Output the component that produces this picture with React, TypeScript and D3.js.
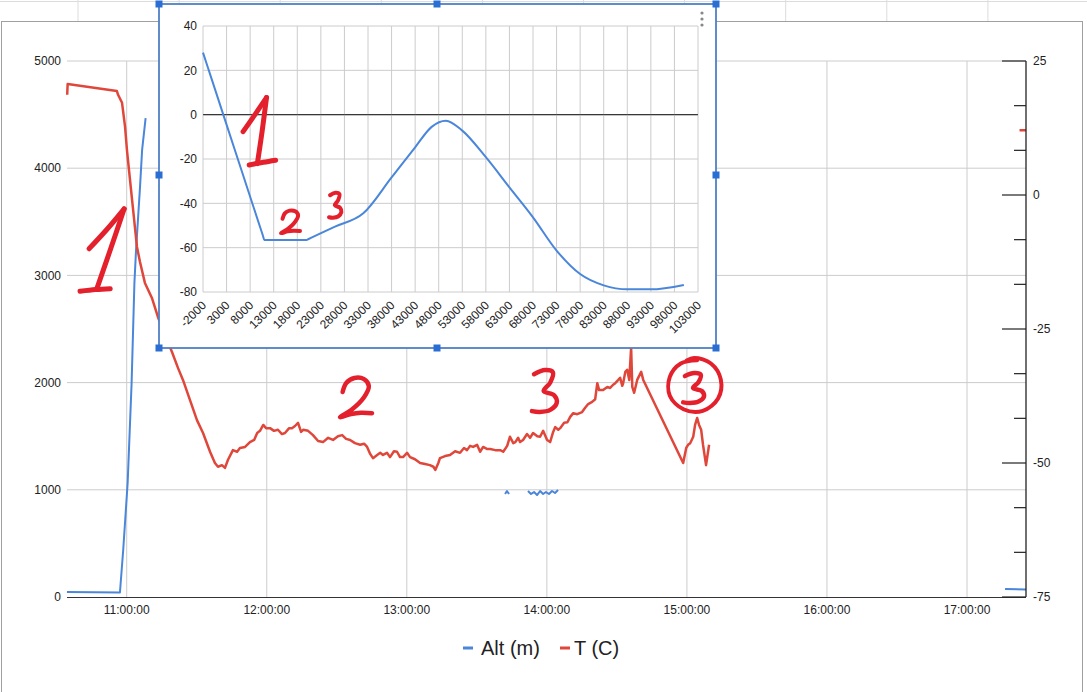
import React from "react";
import * as d3 from "d3";

const W = 1087;
const H = 692;
const FONT = "'Liberation Sans', Arial, Helvetica, sans-serif";

// ---------- main chart data (minutes after 11:00:00) ----------
const altMinutes = [
  -25.6, -2.9, -1.5, 0.4, 2.1, 3.3, 4.0, 5.7, 6.6, 8.1, 80,
  162.1, 162.9, 163.8, 168,
  171.9, 173.2, 174.5, 175.8, 177.1, 178.4, 179.6, 180.9, 182.2, 183.5, 184.8, 280,
  376.3, 385.3,
];
const altMeters: (number | null)[] = [
  47, 42, 438, 1063, 1996, 2929, 3237, 3824, 4170, 4468, null,
  961, 989, 961, null,
  989, 961, 979, 951, 989, 961, 979, 961, 989, 970, 998, null,
  75, 70,
];

const tempMinutes = [
  -25.5, -25.3, -4.2, -3.7, -2.0, -0.7, 0.1, 2.3, 4.4, 5.7, 7.8, 10.8, 13.4, 16.4, 19.4, 22.0, 24.1,
  30.1, 32.7, 35.7, 37.8, 39.1, 40.8, 42.1, 43.4, 45.5, 47.3, 48.5, 50.7, 52.8, 54.6, 55.9, 57.1,
  58.5, 59.7, 61.4, 63.1, 64.8, 66.5, 67.8, 69.6, 70.8, 72.1, 73.4, 74.7, 75.6, 77.7, 79.8, 82.0,
  84.1, 86.3, 88.4, 90.5, 92.3, 94.0, 95.7, 97.8, 100.0, 101.7, 103.0, 104.3, 105.5, 107.3, 108.6,
  109.8, 111.5, 112.8, 114.5, 115.8, 117.1, 118.4, 120.1, 121.4, 123.5, 125.7, 127.8, 129.9, 131.4,
  132.2, 133.5, 134.2, 136.4, 138.5, 140.7, 142.8, 144.5, 145.8, 147.1, 148.4, 150.1, 151.4, 152.7,
  154.5, 155.7, 157.9, 160.0, 161.3, 163.0, 164.2, 165.6, 166.5, 167.7, 168.5, 169.8, 171.5, 172.8,
  174.1, 175.9, 177.1, 178.4, 180.1, 181.4, 182.7, 183.6, 184.9, 185.7, 187.4, 188.8, 190.0, 191.3,
  193.0, 195.1, 196.4, 197.7, 199.4, 200.7, 201.6, 202.4, 204.1, 205.9, 207.1, 208.4, 209.3, 210.6,
  211.4, 212.3, 212.7, 213.6, 214.4, 215.3, 216.1, 216.6, 217.4, 218.7, 220.4, 221.3,
  238.4, 239.7, 240.5, 241.4, 242.7, 243.5, 244.4, 245.2, 246.1, 246.9, 248.2, 249.5,
  300, 382.5, 385.3,
];
const tempC: (number | null)[] = [
  18.7, 20.7, 19.4, 18.7, 17.2, 12.7, 8.4, -0.9, -9.7, -12.5, -16.4, -19.2, -22.8, -26.1, -29.3, -32.3, -34.5,
  -42.0, -44.4, -47.9, -50.0, -50.7, -50.4, -50.9, -49.4, -47.6, -47.9, -47.2, -47.0, -46.1, -45.7, -44.4, -44.0,
  -42.9, -43.5, -43.5, -44.0, -43.8, -44.6, -44.4, -43.5, -43.5, -43.1, -42.5, -44.2, -43.8, -44.0, -44.8, -45.9,
  -46.1, -45.3, -45.7, -45.0, -44.8, -45.5, -45.7, -46.3, -46.6, -46.4, -47.0, -48.3, -49.1, -48.5, -48.1,
  -48.5, -48.1, -48.9, -47.8, -47.9, -48.9, -48.9, -48.1, -48.9, -49.3, -50.0, -50.2, -50.4, -50.7,
  -51.3, -50.0, -49.1, -48.7, -48.5, -47.8, -48.1, -47.2, -47.6, -46.8, -47.0, -46.6, -47.9, -47.0,
  -47.4, -47.4, -47.6, -47.6, -47.9, -46.8, -45.1, -46.3, -46.1, -45.3, -46.1, -45.7, -44.6, -45.3,
  -44.4, -45.0, -45.1, -44.0, -45.7, -46.1, -44.2, -43.3, -43.8, -43.5, -42.5, -42.4, -41.4, -40.7,
  -40.9, -40.5, -39.7, -39.0, -38.6, -38.1, -35.1, -36.4, -36.4, -35.8, -36.0, -35.4, -35.1, -34.5,
  -34.1, -35.6, -35.1, -33.0, -32.6, -34.5, -28.5, -35.8, -36.9, -34.5, -33.0, -34.5,
  -50.0, -47.2, -46.6, -46.3, -45.1, -42.9, -41.6, -42.9, -43.8, -46.6, -50.4, -46.6,
  null, 12.1, 12.1,
];

const leftTicks = [0, 1000, 2000, 3000, 4000, 5000];
const rightMajorTicks = [25, 0, -25, -50, -75];
const legendItems = ["Alt (m)", "T (C)"];
const seriesColors = ["#4a86d9", "#e0473b"];

// ---------- inset chart data ----------
const insetAltitude = [-2000, 0, 5000, 10000, 10700, 11000, 20000, 20300, 21000, 26000, 32000, 38000, 43000, 46500, 49500, 53000, 58000, 63000, 68000, 73000, 78000, 83000, 88000, 93000, 100000];
const insetTemp = [28, 15, -17.5, -50, -54.5, -56.5, -56.5, -56.2, -55.5, -50.5, -44.5, -28.3, -14.7, -5.5, -2.7, -7.2, -19.2, -32.8, -46.3, -61.3, -71.9, -77, -78.8, -78.8, -76.8];
const insetYTicks = [40, 20, 0, -20, -40, -60, -80];

// ---------- hand-drawn annotations (glyph shapes in a unit box) ----------
type Pt = [number, number];
const GLYPHS: Record<string, Pt[][]> = {
  oneSlant: [
    [[0.2, 0.48], [0.6, 0.25], [0.98, 0.01]],
    [[0.98, 0.01], [0.68, 0.48], [0.38, 0.94]],
    [[0, 0.98], [0.35, 0.96], [0.67, 0.95]],
  ],
  oneUp: [
    [[0, 0.5], [0.35, 0.25], [0.69, 0]],
    [[0.69, 0], [0.56, 0.5], [0.42, 0.97]],
    [[0.18, 0.99], [0.6, 0.95], [0.96, 0.92]],
  ],
  two: [[[0.08, 0.35], [0.2, 0.12], [0.45, 0], [0.75, 0.03], [0.9, 0.2], [0.75, 0.48], [0.35, 0.8], [0, 0.98], [0.35, 0.9], [0.65, 0.87], [1, 0.88]]],
  three: [[[0.08, 0.1], [0.5, 0], [0.8, 0.05], [0.7, 0.3], [0.45, 0.5], [0.85, 0.6], [0.95, 0.78], [0.7, 0.95], [0.3, 1], [0, 0.98]]],
  ring: [[[0.55, 0.04], [0.25, 0.1], [0.05, 0.35], [0.05, 0.7], [0.3, 0.95], [0.65, 0.98], [0.93, 0.75], [0.98, 0.4], [0.8, 0.1], [0.5, 0], [0.35, 0.05]]],
};
// main chart notes: minutes range, altitude range (left axis)
const mainNotes = [
  { glyph: "oneSlant", t0: -20.0, t1: -0.7, v0: 3629, v1: 2836, w: 5 },
  { glyph: "two", t0: 91.4, t1: 105.1, v0: 2043, v1: 1670, w: 4.5 },
  { glyph: "three", t0: 173.6, t1: 184.8, v0: 2117, v1: 1726, w: 4.5 },
  { glyph: "ring", t0: 231.5, t1: 255.0, v0: 2229, v1: 1726, w: 4 },
  { glyph: "three", t0: 238.4, t1: 247.8, v0: 2089, v1: 1810, w: 4.5 },
];
// inset notes: altitude range, temperature range
const insetNotes = [
  { glyph: "oneUp", t0: 6500, t1: 13700, v0: 7.7, v1: -23.0, w: 5 },
  { glyph: "two", t0: 14545, t1: 18576, v0: -43.3, v1: -53.7, w: 4 },
  { glyph: "three", t0: 24727, t1: 27485, v0: -35.2, v1: -46.5, w: 4 },
];
const NOTE_RED = "#e3202c";

const BASE = new Date(2000, 0, 1, 11, 0, 0).getTime();
const toDate = (m: number) => new Date(BASE + m * 60000);

export default function App() {
  // main scales
  const x = d3.scaleTime().domain([toDate(-25.58), toDate(385.27)]).range([67, 1026]);
  const yL = d3.scaleLinear().domain([0, 5000]).range([597, 61]);
  const yR = d3.scaleLinear().domain([-75, 25]).range([597, 61]);
  const hours = d3.timeHour.range(toDate(-25), toDate(385));
  const fmt = d3.timeFormat("%H:%M:%S");
  const minorR = d3.range(25, -75.01, -25 / 3).filter((v) => Math.abs(v % 25) > 0.5 && Math.abs(v % 25) < 24.5);

  const altLine = d3
    .line<number>()
    .defined((i) => altMeters[i] != null)
    .x((i) => x(toDate(altMinutes[i])))
    .y((i) => yL(altMeters[i] as number));
  const tempLine = d3
    .line<number>()
    .defined((i) => tempC[i] != null)
    .x((i) => x(toDate(tempMinutes[i])))
    .y((i) => yR(tempC[i] as number));

  // inset scales
  const xi = d3.scaleLinear().domain([-2000, 103000]).range([203, 698]);
  const yi = d3.scaleLinear().domain([-80, 40]).range([292, 26]);
  const xiTicks = d3.range(-2000, 103001, 5000);
  const insetLine = d3
    .line<number>()
    .curve(d3.curveMonotoneX)
    .x((i) => xi(insetAltitude[i]))
    .y((i) => yi(insetTemp[i]));

  const glyphLine = d3.line<Pt>().curve(d3.curveCatmullRom.alpha(0.5));
  const notePaths = (
    notes: typeof mainNotes,
    sx: (v: number) => number,
    sy: (v: number) => number
  ) =>
    notes.flatMap((n, k) =>
      GLYPHS[n.glyph].map((stroke, j) => (
        <path
          key={`${k}-${j}`}
          d={glyphLine(stroke.map(([u, v]) => [sx(n.t0 + u * (n.t1 - n.t0)), sy(n.v0 + v * (n.v1 - n.v0))] as Pt)) || ""}
          fill="none"
          stroke={NOTE_RED}
          strokeWidth={n.w}
          strokeLinecap="round"
          strokeLinejoin="round"
        />
      ))
    );

  const sheetCols = d3.range(0, 11).map((k) => 78 + k * 101.1 - 101.1);
  const handles: Pt[] = [
    [159, 4], [437, 4], [716, 4], [159, 175], [716, 175], [159, 348], [437, 348], [716, 348],
  ];

  return (
    <svg
      width={W}
      height={H}
      style={{ position: "absolute", left: 0, top: 0, background: "#fff" }}
      fontFamily={FONT}
    >
      <rect x={0} y={0} width={W} height={H} fill="#fff" />
      {/* spreadsheet grid behind chart */}
      <line x1={0} x2={W} y1={1.5} y2={1.5} stroke="#dcdcdc" />
      {sheetCols.map((c, i) => (
        <line key={i} x1={c} x2={c} y1={0} y2={21} stroke="#dcdcdc" />
      ))}
      {/* chart frame */}
      <rect x={1.5} y={21.5} width={1081} height={H + 10} fill="#fff" stroke="#a0a0a0" />

      {/* gridlines */}
      {leftTicks.slice(1).map((v) => (
        <line key={v} x1={67} x2={1026} y1={yL(v)} y2={yL(v)} stroke="#cccccc" />
      ))}
      {hours.map((h, i) => (
        <line key={i} x1={x(h)} x2={x(h)} y1={61} y2={597} stroke="#cccccc" />
      ))}

      {/* series */}
      <path d={altLine(d3.range(altMinutes.length)) || ""} fill="none" stroke={seriesColors[0]} strokeWidth={2} strokeLinejoin="round" />
      <path d={tempLine(d3.range(tempMinutes.length)) || ""} fill="none" stroke={seriesColors[1]} strokeWidth={2.5} strokeLinejoin="round" />

      {/* baseline */}
      <line x1={67} x2={1026} y1={597.5} y2={597.5} stroke="#333" strokeWidth={1} />
      {/* right axis */}
      <line x1={1026} x2={1026} y1={61} y2={597} stroke="#222" strokeWidth={1.3} />
      {rightMajorTicks.map((v) => (
        <line key={v} x1={1002} x2={1026} y1={yR(v)} y2={yR(v)} stroke="#222" strokeWidth={1.2} />
      ))}
      {minorR.map((v, i) => (
        <line key={i} x1={1014} x2={1026} y1={yR(v)} y2={yR(v)} stroke="#222" strokeWidth={1.2} />
      ))}

      {/* labels */}
      {leftTicks.map((v) => (
        <text key={v} x={61} y={yL(v)} dy="0.35em" textAnchor="end" fontSize={12} fill="#222">
          {v}
        </text>
      ))}
      {rightMajorTicks.map((v) => (
        <text key={v} x={1033} y={yR(v)} dy="0.35em" textAnchor="start" fontSize={12} fill="#222">
          {v}
        </text>
      ))}
      {hours.map((h, i) => (
        <text key={i} x={x(h)} y={614} textAnchor="middle" fontSize={12} fill="#222">
          {fmt(h)}
        </text>
      ))}

      {/* legend */}
      <rect x={463} y={646.5} width={10} height={3} fill={seriesColors[0]} />
      <text x={481} y={655} fontSize={20} fill="#222">{legendItems[0]}</text>
      <rect x={560} y={646.5} width={10} height={3} fill={seriesColors[1]} />
      <text x={574} y={655} fontSize={20} fill="#222">{legendItems[1]}</text>

      {/* annotations on main chart */}
      {notePaths(mainNotes, (m) => x(toDate(m)), yL)}

      {/* ---------- inset chart ---------- */}
      <rect x={159} y={4} width={557} height={344} fill="#fff" />
      {insetYTicks.map((v) => (
        <line key={v} x1={203} x2={698} y1={yi(v)} y2={yi(v)} stroke={v === 0 ? "#333" : "#cccccc"} />
      ))}
      {xiTicks.map((v) => (
        <line key={v} x1={xi(v)} x2={xi(v)} y1={26} y2={292} stroke="#cccccc" />
      ))}
      <line x1={203} x2={698} y1={yi(0)} y2={yi(0)} stroke="#333" />
      <path d={insetLine(d3.range(insetAltitude.length)) || ""} fill="none" stroke={seriesColors[0]} strokeWidth={2} />
      {insetYTicks.map((v) => (
        <text key={v} x={197} y={yi(v)} dy="0.35em" textAnchor="end" fontSize={12} fill="#222">
          {v}
        </text>
      ))}
      {xiTicks.map((v) => (
        <text
          key={v}
          transform={`translate(${xi(v) + 4},${306}) rotate(-45)`}
          textAnchor="end"
          fontSize={12}
          fill="#222"
        >
          {v}
        </text>
      ))}
      {[13, 19, 25].map((cy) => (
        <circle key={cy} cx={702} cy={cy} r={1.6} fill="#888" />
      ))}
      {notePaths(insetNotes, xi, yi)}
      <rect x={159} y={4} width={557} height={344} fill="none" stroke="#4f80c6" strokeWidth={1.8} />
      {handles.map(([hx, hy], i) => (
        <rect key={i} x={hx - 3.5} y={hy - 3.5} width={7} height={7} fill="#2a6ed3" />
      ))}
    </svg>
  );
}
